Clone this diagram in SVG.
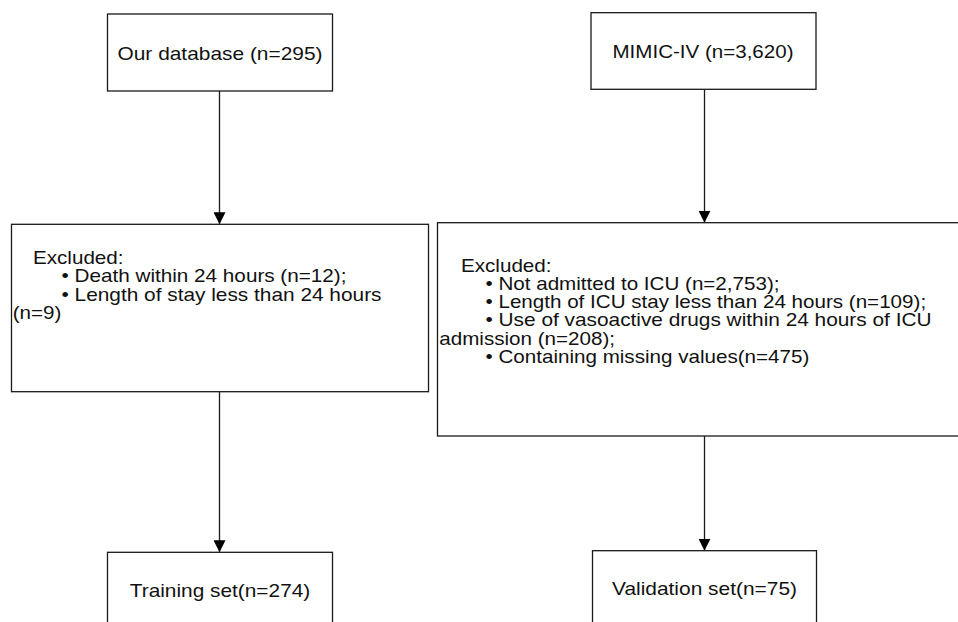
<svg xmlns="http://www.w3.org/2000/svg" width="958" height="622" viewBox="0 0 958 622">
<style>
.box{fill:#fff;stroke:#1a1a1a;stroke-width:1.3}
.t{font-family:"Liberation Sans",Arial,sans-serif;font-size:18.5px;fill:#111}
.c{text-anchor:middle}
.ln{fill:none;stroke:#1a1a1a;stroke-width:1.3}
</style>
<defs>
<marker id="ah" viewBox="0 0 12 12" refX="12" refY="6" markerWidth="12" markerHeight="12" markerUnits="userSpaceOnUse" orient="auto">
<path d="M0,0 L12,6 L0,12 z" fill="#000"/>
</marker>
</defs>
<rect width="958" height="622" fill="#fff"/>
<g id="connectors">
<path class="ln" d="M219.5,91 V224.3" marker-end="url(#ah)"/>
<path class="ln" d="M704.5,89.3 V222.7" marker-end="url(#ah)"/>
<path class="ln" d="M219.5,391.7 V552.3" marker-end="url(#ah)"/>
<path class="ln" d="M704.5,436 V550.7" marker-end="url(#ah)"/>
</g>
<g id="our-database">
<rect class="box" x="107.5" y="14" width="225" height="77"/>
<text class="t c" x="220" y="59.5" textLength="205" lengthAdjust="spacingAndGlyphs">Our database (n=295)</text>
</g>
<g id="mimic">
<rect class="box" x="591" y="12.7" width="225" height="76.6"/>
<text class="t c" x="703" y="58" textLength="181" lengthAdjust="spacingAndGlyphs">MIMIC-IV (n=3,620)</text>
</g>
<g id="excluded-left">
<rect class="box" x="11.5" y="224.3" width="417" height="167.4"/>
<text class="t" x="33" y="264" textLength="90.5" lengthAdjust="spacingAndGlyphs">Excluded:</text>
<text class="t" x="61.5" y="282.3" textLength="285" lengthAdjust="spacingAndGlyphs">• Death within 24 hours (n=12);</text>
<text class="t" x="61.5" y="300.6" textLength="320" lengthAdjust="spacingAndGlyphs">• Length of stay less than 24 hours</text>
<text class="t" x="12.7" y="318.9" textLength="48.7" lengthAdjust="spacingAndGlyphs">(n=9)</text>
</g>
<g id="excluded-right">
<rect class="box" x="437.5" y="222.7" width="522" height="213.3"/>
<text class="t" x="461" y="271.5" textLength="90.5" lengthAdjust="spacingAndGlyphs">Excluded:</text>
<text class="t" x="485.5" y="289.8" textLength="294" lengthAdjust="spacingAndGlyphs">• Not admitted to ICU (n=2,753);</text>
<text class="t" x="485.5" y="308.1" textLength="440.6" lengthAdjust="spacingAndGlyphs">• Length of ICU stay less than 24 hours (n=109);</text>
<text class="t" x="485.5" y="326.4" textLength="446" lengthAdjust="spacingAndGlyphs">• Use of vasoactive drugs within 24 hours of ICU</text>
<text class="t" x="439.3" y="344.7" textLength="175.7" lengthAdjust="spacingAndGlyphs">admission (n=208);</text>
<text class="t" x="485.5" y="363" textLength="323.8" lengthAdjust="spacingAndGlyphs">• Containing missing values(n=475)</text>
</g>
<g id="training">
<rect class="box" x="107.5" y="552.3" width="225" height="80"/>
<text class="t c" x="220" y="596.5" textLength="180.5" lengthAdjust="spacingAndGlyphs">Training set(n=274)</text>
</g>
<g id="validation">
<rect class="box" x="592.5" y="550.7" width="224" height="80"/>
<text class="t c" x="704.5" y="594.5" textLength="185" lengthAdjust="spacingAndGlyphs">Validation set(n=75)</text>
</g>
</svg>
